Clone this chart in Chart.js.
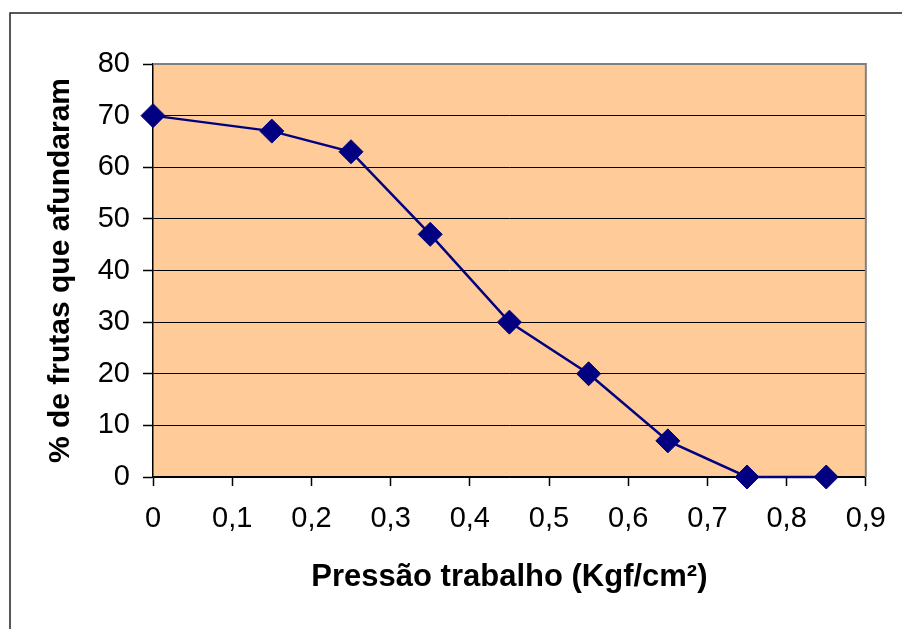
<!DOCTYPE html>
<html><head><meta charset="utf-8">
<script src="https://cdn.jsdelivr.net/npm/chart.js@4.4.0/dist/chart.umd.min.js"></script>
<style>html,body{margin:0;padding:0;background:#fff;}canvas{display:block;}</style>
</head><body>
<canvas id="c" width="902" height="629"></canvas>
<script>
const pressure = [0, 0.15, 0.25, 0.35, 0.45, 0.55, 0.65, 0.75, 0.85];
const sunkPercent = [70, 67, 63, 47, 30, 20, 7, 0, 0];
const xTickLabels = ['0', '0,1', '0,2', '0,3', '0,4', '0,5', '0,6', '0,7', '0,8', '0,9'];
const yTickLabels = ['0', '10', '20', '30', '40', '50', '60', '70', '80'];
const xTitle = 'Pressão trabalho (Kgf/cm²)';
const yTitle = '% de frutas que afundaram';

const FONT = "'Liberation Sans', Arial, sans-serif";

const framePlugin = {
  id: 'frame',
  beforeDraw(chart) {
    const ctx = chart.ctx;
    const a = chart.chartArea;
    ctx.save();
    ctx.fillStyle = '#ffffff';
    ctx.fillRect(0, 0, chart.width, chart.height);
    ctx.strokeStyle = '#222222';
    ctx.lineWidth = 1.5;
    ctx.strokeRect(10, 13, 1200, 1200);
    ctx.fillStyle = '#FFCC99';
    ctx.fillRect(a.left, a.top, a.right - a.left, a.bottom - a.top);
    ctx.restore();
  },
  beforeDatasetsDraw(chart) {
    const ctx = chart.ctx;
    const a = chart.chartArea;
    ctx.save();
    ctx.strokeStyle = '#808080';
    ctx.lineWidth = 2;
    ctx.beginPath();
    ctx.moveTo(a.left, a.top);
    ctx.lineTo(a.right, a.top);
    ctx.lineTo(a.right, a.bottom);
    ctx.stroke();
    ctx.restore();
  }
};

const points = pressure.map((x, i) => ({ x: x, y: sunkPercent[i] }));

new Chart(document.getElementById('c'), {
  type: 'scatter',
  data: {
    datasets: [{
      data: points,
      showLine: true,
      borderColor: '#000080',
      backgroundColor: '#000080',
      borderWidth: 2.5,
      pointStyle: 'rectRot',
      pointRadius: 12,
      pointBorderWidth: 1,
      pointBorderColor: '#000080',
      pointBackgroundColor: '#000080',
      tension: 0,
      clip: false
    }]
  },
  plugins: [framePlugin],
  options: {
    responsive: false,
    animation: false,
    layout: { padding: { left: 0, top: 64, right: 36, bottom: 0 } },
    plugins: { legend: { display: false }, tooltip: { enabled: false } },
    scales: {
      x: {
        type: 'linear',
        min: 0, max: 0.9,
        afterFit(s) { s.height = 152; },
        border: { color: '#000', width: 1.5 },
        grid: { drawOnChartArea: false, drawTicks: true, tickLength: 9, tickColor: '#000', tickWidth: 1.5 },
        ticks: {
          stepSize: 0.1,
          padding: 16,
          maxRotation: 0,
          color: '#000',
          font: { family: FONT, size: 29 },
          callback: (v) => xTickLabels[Math.round(v * 10)]
        },
        title: {
          display: true, text: xTitle, color: '#000',
          font: { family: FONT, size: 31, weight: 'bold' },
          padding: { top: 0, bottom: 33 }
        }
      },
      y: {
        type: 'linear',
        min: 0, max: 80,
        afterFit(s) { s.width = 153; },
        border: { color: '#000', width: 1.5 },
        grid: {
          drawOnChartArea: true, drawTicks: true, tickLength: 10, tickColor: '#000', tickWidth: 1.5,
          color: (c) => (c.tick && c.tick.value === 80) ? 'rgba(0,0,0,0)' : '#000',
          lineWidth: 1
        },
        ticks: {
          stepSize: 10,
          padding: 13,
          color: '#000',
          font: { family: FONT, size: 29 },
          callback: (v) => yTickLabels[Math.round(v / 10)]
        },
        title: {
          display: true, text: yTitle, color: '#000',
          font: { family: FONT, size: 30, weight: 'bold' },
          padding: { top: 43, bottom: 0 }
        }
      }
    }
  }
});
</script>
</body></html>
